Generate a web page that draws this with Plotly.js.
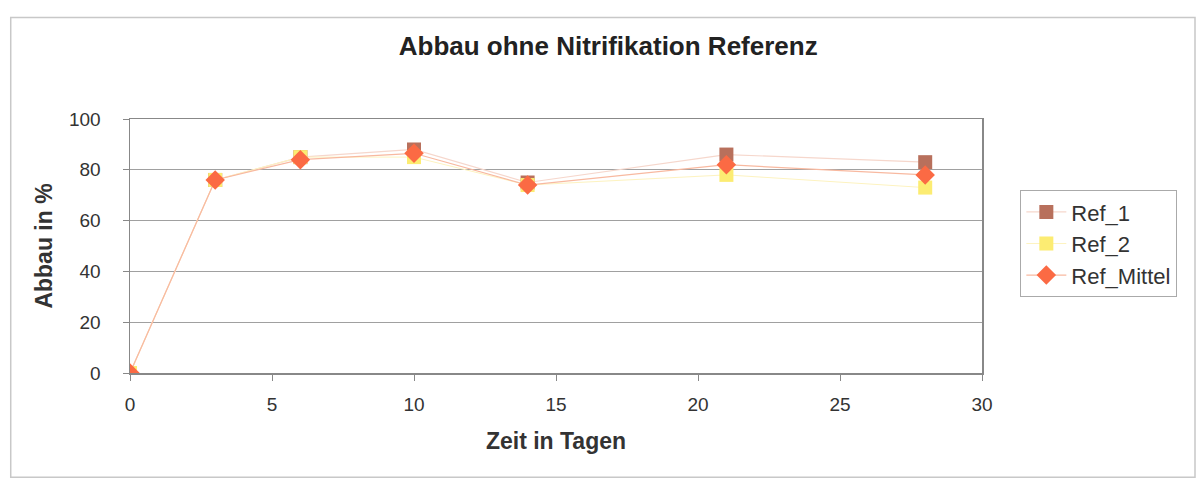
<!DOCTYPE html>
<html><head><meta charset="utf-8">
<script src="https://cdn.plot.ly/plotly-3.0.1.min.js"></script>
<style>body{margin:0;background:#fff}#c{width:1202px;height:481px}</style>
</head><body><div id="c"></div>
<script>
const days = [0, 3, 6, 10, 14, 21, 28];
const ref1 = [0, 76, 85, 88, 75, 86, 83];
const ref2 = [0, 76, 85, 85, 74, 78, 73];
const refMittel = [0, 76, 84, 86.5, 74, 82, 78];

const traces = [
  {x: days, y: ref1, name: 'Ref_1', mode: 'lines+markers',
   line: {color: '#f6d7cc', width: 1.2},
   marker: {symbol: 'square', size: 14, color: '#b8705c'}},
  {x: days, y: ref2, name: 'Ref_2', mode: 'lines+markers',
   line: {color: '#fdf3c0', width: 1},
   marker: {symbol: 'square', size: 14, color: '#fcec72'}},
  {x: days, y: refMittel, name: 'Ref_Mittel', mode: 'lines+markers',
   line: {color: '#f8b9a0', width: 1.2},
   marker: {symbol: 'diamond', size: 15, color: '#fb6a44'}}
];

const layout = {
  width: 1202, height: 481,
  margin: {l: 130, r: 220, t: 119, b: 108},
  paper_bgcolor: '#fff', plot_bgcolor: '#fff',
  font: {family: 'Liberation Sans, Arial, sans-serif', color: '#333', size: 19},
  title: {text: '<b>Abbau ohne Nitrifikation Referenz</b>', x: 0.506, xanchor: 'center', y: 0.905, yanchor: 'middle',
          font: {size: 26, color: '#222'}},
  xaxis: {range: [0, 30], dtick: 5, tick0: 0, showgrid: false, zeroline: false,
          showline: true, linecolor: '#888', linewidth: 1.5, mirror: true,
          ticks: 'outside', ticklen: 6, tickcolor: '#888', ticklabelstandoff: 8,
          title: {text: '<b>Zeit in Tagen</b>', font: {size: 23, color: '#333'}, standoff: 18}},
  yaxis: {range: [0, 100], dtick: 20, showgrid: true, gridcolor: '#a0a0a0', gridwidth: 1, zeroline: false,
          showline: true, linecolor: '#888', linewidth: 1.5, mirror: true,
          ticks: 'outside', ticklen: 6, tickcolor: '#888', ticklabelstandoff: 18,
          title: {text: '<b>Abbau in %</b>', font: {size: 23, color: '#333'}, standoff: 10}},
  legend: {x: 1.045, y: 0.72, xanchor: 'left', yanchor: 'top',
           bordercolor: '#aaa', borderwidth: 1, bgcolor: '#fff',
           font: {size: 22, color: '#333'}, tracegroupgap: 2, itemwidth: 40},
  showlegend: true,
  shapes: [{type: 'rect', xref: 'paper', yref: 'paper', x0: -0.14, x1: 1.25, y0: -0.41, y1: 1.40,
            line: {color: '#c8c8c8', width: 1.5}}]
};
Plotly.newPlot('c', traces, layout, {staticPlot: true});
</script></body></html>
